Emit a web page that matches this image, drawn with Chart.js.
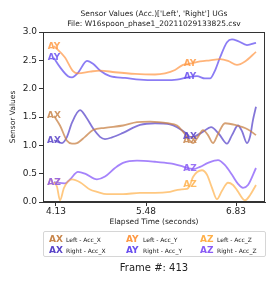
<!DOCTYPE html>
<html>
<head>
<meta charset="utf-8">
<script src="https://cdn.jsdelivr.net/npm/chart.js@4"></script>
<style>
  body { margin: 0; background: #fff; }
  #wrap { position: relative; width: 275px; height: 284px; font-family: "DejaVu Sans", sans-serif; color: #222; }
  #c { position: absolute; left: 0; top: 0; }
  .t { position: absolute; white-space: nowrap; transform: translateX(-50%); }
  #legend { position: absolute; left: 43px; top: 231px; width: 221px; height: 24px; border: 1px solid #d6d6d6; border-radius: 2px; }
  .lg { position: absolute; font-size: 6px; white-space: nowrap; }
  .mk { position: absolute; font-weight: bold; font-size: 9px; white-space: nowrap; }
</style>
</head>
<body>
<div id="wrap">
  <canvas id="c" width="275" height="284"></canvas>
  <div class="t" style="left:154px; top:9px; font-size:7.5px;">Sensor Values (Acc.)['Left', 'Right'] UGs</div>
  <div class="t" style="left:154px; top:19px; font-size:7.5px;">File: W16spoon_phase1_20211029133825.csv</div>
  <div id="legend"></div>
  <div class="t" style="left:154px; top:262px; font-size:10px;">Frame #: 413</div>
</div>
<script>
// tick values
const xTicks = [4.13, 5.48, 6.83]
const markerTimes = [4.10, 6.14]

// Left - Acc_X
const lAxT = [4.10, 4.19, 4.295, 4.37, 4.445, 4.565, 4.685, 4.865, 5.135, 5.345, 5.54, 5.81, 5.945, 6.035, 6.14, 6.185, 6.26, 6.335, 6.41, 6.485, 6.56, 6.665, 6.815, 7.01, 7.13]
const lAxV = [1.52, 1.35, 1.08, 1.03, 1.04, 1.15, 1.27, 1.31, 1.35, 1.41, 1.42, 1.39, 1.35, 1.24, 1.08, 1.04, 1.15, 1.27, 1.18, 1.04, 1.20, 1.39, 1.36, 1.28, 1.18]
// Left - Acc_Y
const lAyT = [4.10, 4.265, 4.385, 4.46, 4.64, 4.79, 5.015, 5.315, 5.615, 5.765, 5.915, 6.035, 6.14, 6.29, 6.44, 6.59, 6.71, 6.845, 6.965, 7.13]
const lAyV = [2.75, 2.55, 2.31, 2.27, 2.30, 2.32, 2.29, 2.26, 2.25, 2.27, 2.33, 2.42, 2.44, 2.48, 2.50, 2.52, 2.49, 2.42, 2.48, 2.65]
// Left - Acc_Z
const lAzT = [4.10, 4.145, 4.19, 4.25, 4.37, 4.49, 4.64, 4.745, 4.895, 5.135, 5.39, 5.615, 5.84, 5.99, 6.095, 6.14, 6.185, 6.32, 6.395, 6.47, 6.545, 6.62, 6.71, 6.785, 6.845, 6.965, 7.04, 7.13]
const lAzV = [0.35, 0.27, 0.03, 0.25, 0.40, 0.35, 0.22, 0.18, 0.14, 0.14, 0.16, 0.16, 0.18, 0.22, 0.23, 0.30, 0.44, 0.56, 0.48, 0.25, 0.05, 0.20, 0.34, 0.30, 0.21, 0.03, 0.12, 0.30]
// Right - Acc_X
const rAxT = [4.10, 4.22, 4.295, 4.37, 4.49, 4.58, 4.685, 4.79, 4.865, 4.97, 5.135, 5.39, 5.615, 5.84, 5.945, 6.095, 6.14, 6.215, 6.335, 6.455, 6.575, 6.695, 6.77, 6.86, 6.92, 6.995, 7.04, 7.085, 7.13]
const rAxV = [1.09, 1.04, 1.15, 1.40, 1.62, 1.50, 1.30, 1.15, 1.11, 1.14, 1.22, 1.36, 1.39, 1.37, 1.32, 1.20, 1.15, 1.16, 1.24, 1.32, 1.20, 1.03, 1.18, 1.35, 1.25, 1.04, 1.15, 1.45, 1.68]
// Right - Acc_Y
const rAyT = [4.10, 4.19, 4.31, 4.37, 4.46, 4.595, 4.685, 4.79, 4.94, 5.165, 5.39, 5.615, 5.84, 5.99, 6.14, 6.245, 6.365, 6.44, 6.515, 6.59, 6.695, 6.77, 6.86, 6.995, 7.13]
const rAyV = [2.54, 2.38, 2.22, 2.20, 2.28, 2.49, 2.44, 2.32, 2.22, 2.19, 2.16, 2.15, 2.15, 2.17, 2.21, 2.22, 2.18, 2.18, 2.32, 2.55, 2.82, 2.87, 2.84, 2.77, 2.81]
// Right - Acc_Z
const rAzT = [4.10, 4.265, 4.34, 4.46, 4.565, 4.745, 4.865, 5.015, 5.135, 5.345, 5.615, 5.84, 5.99, 6.14, 6.185, 6.29, 6.41, 6.56, 6.665, 6.77, 6.86, 6.935, 7.01, 7.13]
const rAzV = [0.35, 0.33, 0.40, 0.53, 0.50, 0.40, 0.45, 0.60, 0.69, 0.73, 0.71, 0.68, 0.64, 0.59, 0.58, 0.62, 0.69, 0.74, 0.65, 0.48, 0.32, 0.25, 0.30, 0.60]

const series = [
    { name: 'Left - Acc_X', tag: 'AX', t: lAxT, v: lAxV, line: 'rgba(200,130,70,0.75)', mark: '#c8864c' },
    { name: 'Left - Acc_Y', tag: 'AY', t: lAyT, v: lAyV, line: 'rgba(255,140,50,0.65)', mark: '#ff9a45' },
    { name: 'Left - Acc_Z', tag: 'AZ', t: lAzT, v: lAzV, line: 'rgba(255,170,60,0.65)', mark: '#ffb04a' },
    { name: 'Right - Acc_X', tag: 'AX', t: rAxT, v: rAxV, line: 'rgba(80,60,200,0.7)', mark: '#5a44c8' },
    { name: 'Right - Acc_Y', tag: 'AY', t: rAyT, v: rAyV, line: 'rgba(100,80,240,0.75)', mark: '#6a50ef' },
    { name: 'Right - Acc_Z', tag: 'AZ', t: rAzT, v: rAzV, line: 'rgba(135,90,250,0.75)', mark: '#8a5cf5' },
]

// legend (html)
const legend = document.getElementById('legend')
const colX = [5, 82, 156]
series.forEach((s, i) => {
    const col = i % 3, row = i < 3 ? 0 : 1
    const top = 2 + row * 11
    legend.insertAdjacentHTML('beforeend',
        `<span class="mk" style="left:${colX[col]}px;top:${top}px;color:${s.mark}">${s.tag}</span>` +
        `<span class="lg" style="left:${colX[col] + 17}px;top:${top + 2}px">${s.name}</span>`)
})

const frameBox = {
    id: 'frameBox',
    afterDraw(chart) {
        const { ctx, chartArea: a } = chart
        ctx.save()
        ctx.strokeStyle = '#333'
        ctx.lineWidth = 1
        ctx.strokeRect(a.left + 0.5, a.top + 0.5, a.right - a.left - 1, a.bottom - a.top - 1)
        ctx.restore()
    }
}

const tagMarkers = {
    id: 'tagMarkers',
    afterDatasetsDraw(chart) {
        const { ctx, scales } = chart
        ctx.save()
        ctx.font = 'bold 9px "DejaVu Sans"'
        ctx.textAlign = 'center'
        ctx.textBaseline = 'middle'
        ctx.globalAlpha = 0.85
        series.forEach(s => {
            markerTimes.forEach(mt => {
                const i = s.t.indexOf(mt)
                if (i < 0) return
                ctx.fillStyle = s.mark
                ctx.fillText(s.tag, scales.x.getPixelForValue(s.t[i]), scales.y.getPixelForValue(s.v[i]))
            })
        })
        ctx.restore()
    }
}

new Chart(document.getElementById('c'), {
    type: 'line',
    data: {
        datasets: series.map(s => ({
            label: s.name,
            data: s.t.map((t, i) => ({ x: t, y: s.v[i] })),
            borderColor: s.line,
            borderWidth: 1.8,
            pointRadius: 0,
            cubicInterpolationMode: 'monotone',
            fill: false,
        }))
    },
    options: {
        responsive: false,
        animation: false,
        devicePixelRatio: 1,
        layout: { padding: { top: 32, right: 10, left: 0, bottom: 52 } },
        plugins: { legend: { display: false }, tooltip: { enabled: false } },
        scales: {
            x: {
                type: 'linear',
                min: 3.935,
                max: 7.265,
                afterBuildTicks: sc => { sc.ticks = xTicks.map(v => ({ value: v })) },
                afterFit: sc => { sc.height = 30 },
                ticks: { color: '#222', font: { family: 'DejaVu Sans', size: 9 }, padding: 0, maxRotation: 0, callback: v => v.toFixed(2) },
                grid: { drawOnChartArea: false, tickLength: 4, color: '#333' },
                border: { color: '#333' },
                title: { display: true, text: 'Elapsed Time (seconds)', color: '#222', font: { family: 'DejaVu Sans', size: 7.5 }, padding: { top: 0, bottom: 5 } }
            },
            y: {
                min: 0,
                max: 3,
                afterFit: sc => { sc.width = 43 },
                ticks: { stepSize: 0.5, color: '#222', font: { family: 'DejaVu Sans', size: 9 }, padding: 2, callback: v => v.toFixed(1) },
                grid: { drawOnChartArea: false, tickLength: 4, color: '#333' },
                border: { color: '#333' },
                title: { display: true, text: 'Sensor Values', color: '#222', font: { family: 'DejaVu Sans', size: 7.5 }, padding: { top: 9, bottom: 0 } }
            }
        }
    },
    plugins: [frameBox, tagMarkers]
})
</script>
</body>
</html>
